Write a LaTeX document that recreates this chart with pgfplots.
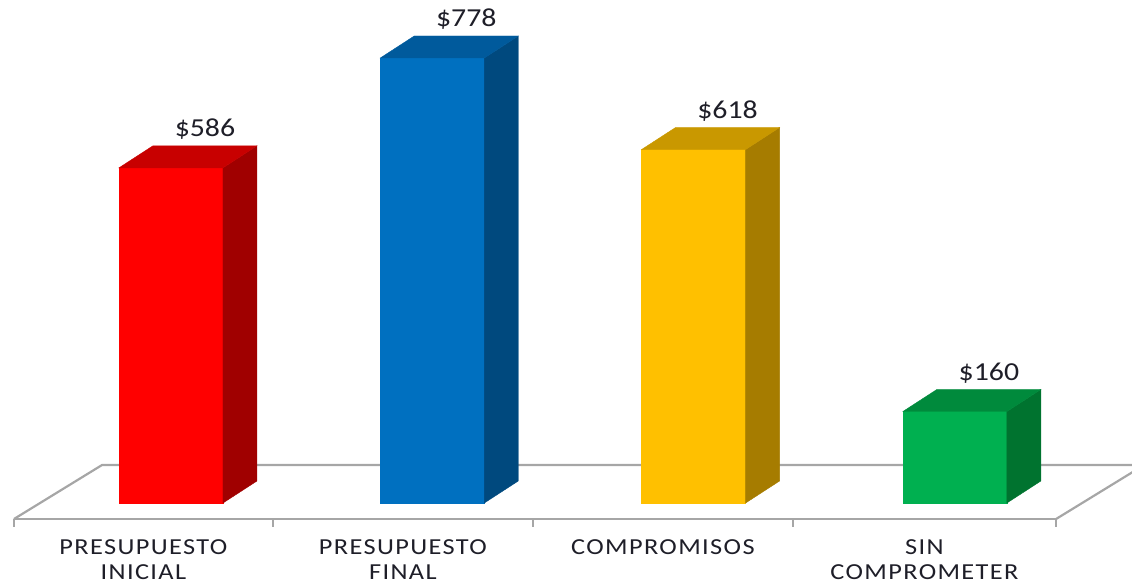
\documentclass[border=0pt]{standalone}
\usepackage{fontspec}
\setmainfont{Carlito}[FakeStretch=1.15]
\newfontfamily\catfont{Carlito}[FakeStretch=1.15, LetterSpace=6]
\usepackage{pgfplots}
\usepackage{pgfplotstable}
\pgfplotsset{compat=1.18}

\definecolor{redF}{HTML}{FF0000}
\definecolor{redS}{HTML}{A00000}
\definecolor{redT}{HTML}{C80000}
\definecolor{bluF}{HTML}{0070C0}
\definecolor{bluS}{HTML}{00497E}
\definecolor{bluT}{HTML}{005A9C}
\definecolor{yelF}{HTML}{FFC000}
\definecolor{yelS}{HTML}{A67C00}
\definecolor{yelT}{HTML}{C99800}
\definecolor{grnF}{HTML}{00B050}
\definecolor{grnS}{HTML}{00732F}
\definecolor{grnT}{HTML}{008A3C}
\definecolor{floorc}{HTML}{A6A6A6}
\definecolor{txt}{HTML}{1E1E28}

% values of the chart
\pgfplotstableread{
i v
0 586
1 778
2 618
3 160
}\datos

% half width 0.199, depth offset (0.13, 38.5)
\newcommand\barthreed[5]{%
  \pgfmathsetmacro\xl{#1-0.199}%
  \pgfmathsetmacro\xr{#1+0.199}%
  \pgfmathsetmacro\xa{#1-0.069}%
  \pgfmathsetmacro\xb{#1+0.329}%
  \pgfmathsetmacro\yt{#2+38.5}%
  \addplot[fill=#3, draw=#3, line width=0.2bp] coordinates {(\xl,0) (\xr,0) (\xr,#2) (\xl,#2)} -- cycle;
  \addplot[fill=#4, draw=#4, line width=0.2bp] coordinates {(\xr,0) (\xb,38.5) (\xb,\yt) (\xr,#2)} -- cycle;
  \addplot[fill=#5, draw=#5, line width=0.2bp] coordinates {(\xl,#2) (\xr,#2) (\xb,\yt) (\xa,\yt)} -- cycle;
}

\begin{document}
\begin{tikzpicture}
\begin{axis}[
  scale only axis, width=566bp, height=293.5bp,
  xmin=-0.6544, xmax=3.6777, ymin=-146.85, ymax=879.4,
  hide axis,
  /pgf/number format/assume math mode=true,
]
\coordinate (SW) at (rel axis cs:0,0);
\coordinate (NE) at (rel axis cs:1,1);
% floor
\addplot[draw=floorc, line width=1.1bp] coordinates {(-0.601,-28) (3.387,-28)};
\addplot[draw=floorc, line width=1.1bp] coordinates {(-0.601,-28) (-0.264,66.4) (3.80,66.4)};
\addplot[draw=floorc, line width=1.1bp] coordinates {(3.387,-28) (3.724,66.4)};
\addplot[draw=floorc, line width=1.1bp] coordinates {(-0.601,-28) (-0.601,-42)};
\addplot[draw=floorc, line width=1.1bp] coordinates {(0.390,-28) (0.390,-42)};
\addplot[draw=floorc, line width=1.1bp] coordinates {(1.385,-28) (1.385,-42)};
\addplot[draw=floorc, line width=1.1bp] coordinates {(2.380,-28) (2.380,-42)};
\addplot[draw=floorc, line width=1.1bp] coordinates {(3.387,-28) (3.387,-42)};
% bars
\barthreed{0}{586}{redF}{redS}{redT}
\barthreed{1}{778}{bluF}{bluS}{bluT}
\barthreed{2}{618}{yelF}{yelS}{yelT}
\barthreed{3}{160}{grnF}{grnS}{grnT}
% value labels
\addplot[draw=none, mark=none,
  nodes near coords={\$\pgfmathprintnumber{\pgfplotspointmeta}},
  point meta=explicit,
  every node near coord/.append style={anchor=base, yshift=4.5bp,
    font=\fontsize{13}{15}\selectfont, text=txt}]
  table[x expr=\thisrow{i}+0.13, y expr=\thisrow{v}+38.5, meta=v] {\datos};
% category labels
\begin{scope}[every node/.style={anchor=base, font=\catfont\fontsize{11.5}{13}\selectfont, text=txt, inner sep=0pt}]
\node at (axis cs:-0.1055,-89.2) {PRESUPUESTO};
\node at (axis cs:-0.1055,-132.9) {INICIAL};
\node at (axis cs:0.8875,-89.2) {PRESUPUESTO};
\node at (axis cs:0.8875,-132.9) {FINAL};
\node at (axis cs:1.8825,-89.2) {COMPROMISOS};
\node at (axis cs:2.8835,-89.2) {SIN};
\node at (axis cs:2.8835,-132.9) {COMPROMETER};
\end{scope}
\end{axis}
\pgfresetboundingbox
\path (SW) rectangle (NE);
\end{tikzpicture}
\end{document}
